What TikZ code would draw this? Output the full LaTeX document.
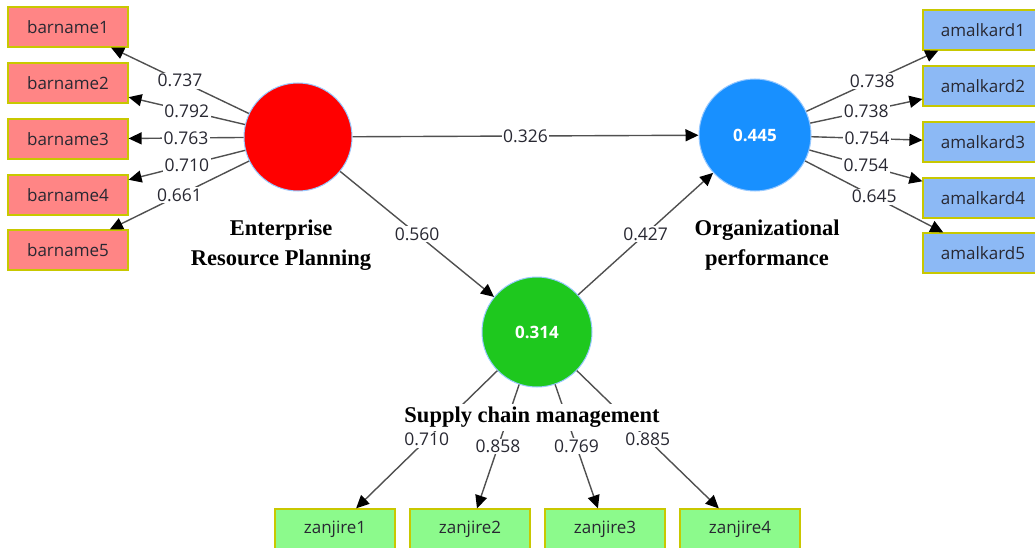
\documentclass[tikz,border=0pt]{standalone}
\usepackage{fontspec}
\setmainfont{Liberation Serif}
\setsansfont{Open Sans}
\usepackage{xcolor}
\usetikzlibrary{arrows.meta}
\definecolor{lvred}{RGB}{255,0,0}
\definecolor{lvblue}{RGB}{24,144,255}
\definecolor{lvgreen}{RGB}{30,200,30}
\definecolor{lvedge}{RGB}{150,200,255}
\definecolor{redbox}{RGB}{255,133,133}
\definecolor{bluebox}{RGB}{140,185,245}
\definecolor{greenbox}{RGB}{140,250,140}
\definecolor{boxedge}{RGB}{200,200,0}
\definecolor{pathgrey}{RGB}{80,80,80}
\definecolor{darkgrey}{RGB}{40,40,50}
\tikzset{
  latent/.style={circle, draw=lvedge, line width=1pt, minimum size=#1, inner sep=0pt,
    font=\sffamily\bfseries\fontsize{17}{17}\selectfont, text=white},
  indicator/.style={rectangle, draw=boxedge, line width=1.2pt, minimum width=120pt,
    minimum height=40pt, inner sep=0pt, font=\sffamily\fontsize{17}{17}\selectfont, text=darkgrey},
  loading/.style={draw=pathgrey, line width=1.4pt, -{Triangle[length=13pt,width=12pt,color=black]}},
  coef/.style={midway, fill=white, inner sep=1.5pt, font=\sffamily\fontsize{17.5}{17.5}\selectfont, text=darkgrey},
  lvname/.style={align=center, font=\bfseries\fontsize{22.5}{30}\selectfont, inner sep=0pt, anchor=north}
}
\begin{document}
\begin{tikzpicture}[x=1pt,y=-1pt]
\useasboundingbox (0,0) rectangle (1035,548);
% latent variables
\node[latent=108pt, fill=lvred] (erp) at (298,137) {};
\node[latent=112pt, fill=lvblue] (op) at (755,135) {0.445};
\node[latent=110pt, fill=lvgreen] (scm) at (537,332) {0.314};

% indicators
\foreach \i/\y in {1/27,2/83,3/139,4/195,5/250}
  \node[indicator, fill=redbox] (bar\i) at (68,\y) {barname\i};
\foreach \i/\y in {1/30,2/86,3/142,4/198,5/253}
  \node[indicator, fill=bluebox] (amal\i) at (983,\y) {amalkard\i};
\foreach \i/\x in {1/335,2/470,3/605,4/740}
  \node[indicator, fill=greenbox] (zan\i) at (\x,529) {zanjire\i};

% outer loadings
\foreach \i/\v in {1/0.737,2/0.792,3/0.763,4/0.710,5/0.661}
  \draw[loading] (erp) -- node[coef] {\v} (bar\i);
\foreach \i/\v in {1/0.738,2/0.738,3/0.754,4/0.754,5/0.645}
  \draw[loading] (op) -- node[coef] {\v} (amal\i);
\foreach \i/\v in {1/0.710,2/0.858,3/0.769,4/0.885}
  \draw[loading] (scm) -- node[coef] {\v} (zan\i);

% path coefficients
\draw[loading] (erp) -- node[coef] {0.326} (op);
\draw[loading] (erp) -- node[coef] {0.560} (scm);
\draw[loading] (scm) -- node[coef] {0.427} (op);

% construct names
\node[lvname] (erplabel) at (281,220) {Enterprise\\Resource Planning};
\node[lvname] (oplabel) at (767,220) {Organizational\\performance};
\node[lvname, fill=white, inner xsep=2pt, inner ysep=3pt] (scmlabel) at (532,404) {Supply chain management};
\end{tikzpicture}
\end{document}
